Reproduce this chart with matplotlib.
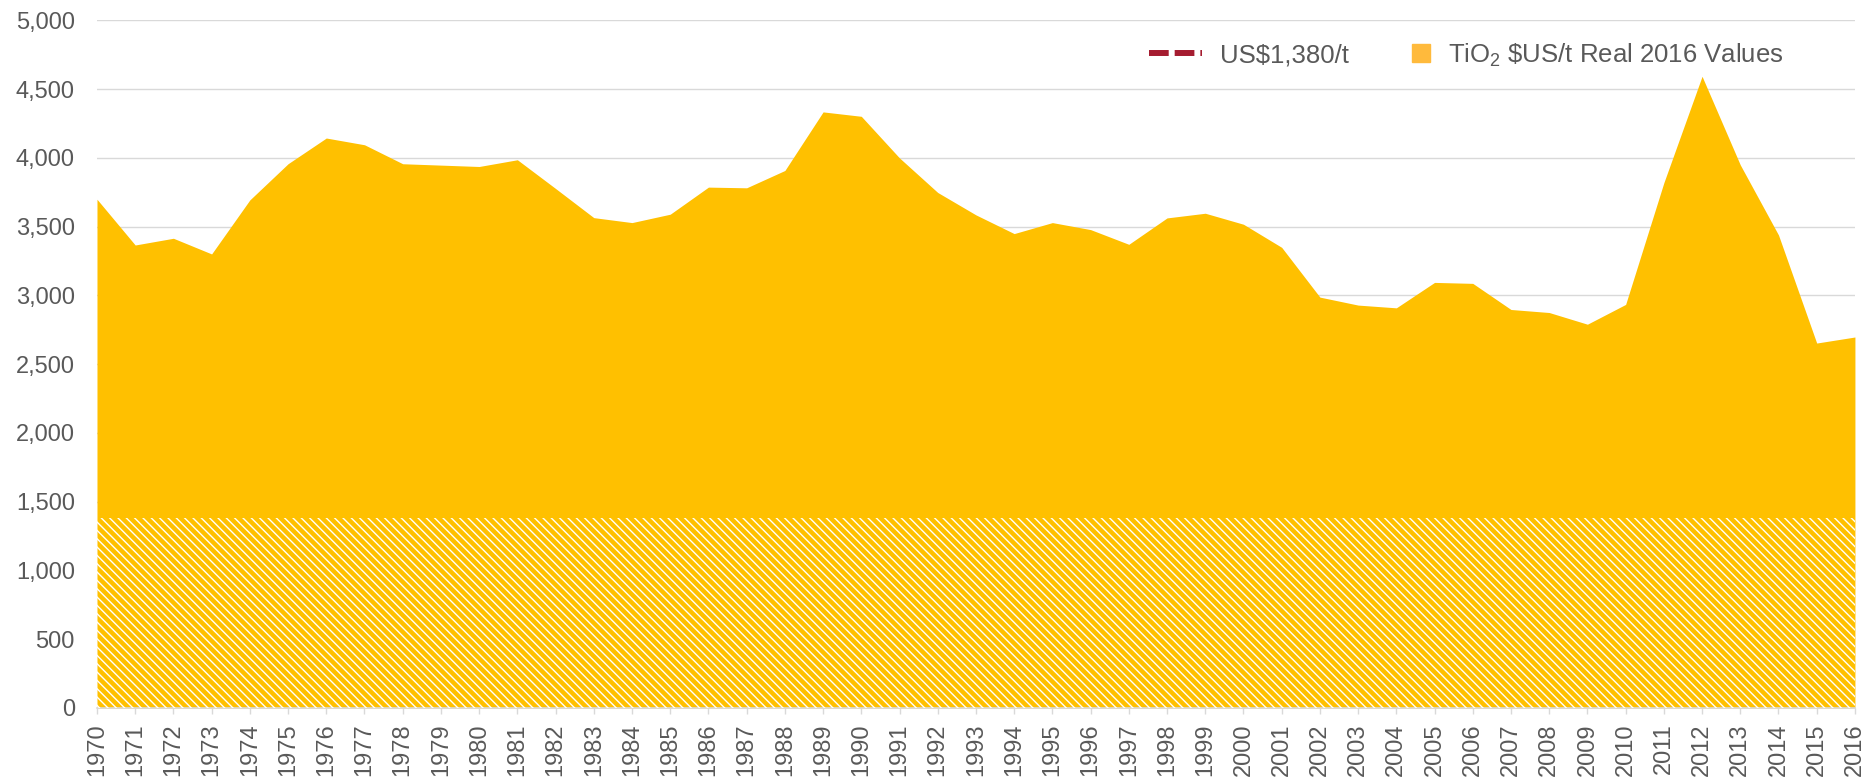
import matplotlib
matplotlib.use("Agg")
import matplotlib.pyplot as plt
import matplotlib.patches as mpatches
from matplotlib.lines import Line2D
from matplotlib.legend_handler import HandlerPatch
from matplotlib.ticker import FuncFormatter

# data
years = list(range(1970, 2017))
price = [3700, 3367, 3416, 3302, 3695, 3958, 4145, 4096, 3958, 3948,
         3938, 3987, 3778, 3566, 3530, 3591, 3788, 3783, 3909, 4335,
         4303, 4000, 3749, 3586, 3450, 3530, 3479, 3372, 3564, 3598,
         3518, 3350, 2988, 2930, 2910, 3095, 3088, 2898, 2876, 2791,
         2935, 3820, 4594, 3950, 3440, 2654, 2698]
threshold = 1380
line_label = "US$1,380/t"
area_label = "TiO$_\\mathregular{2}$ \\$US/t Real 2016 Values"

txt = "#595959"
gold = "#FFC000"
plt.rcParams["font.family"] = ["Liberation Sans", "DejaVu Sans"]
plt.rcParams["hatch.linewidth"] = 1.0

fig = plt.figure(figsize=(18.65, 7.78), dpi=100)
ax = fig.add_axes([0.052, 0.09, 0.9426, 0.8837])

# area, then the hatched band under the threshold
ax.fill_between(years, 0, price, color=gold, lw=0, zorder=2)
ax.fill_between(years, 0, threshold, facecolor="none", edgecolor="white",
                hatch="\\\\\\\\", lw=0, zorder=3)

ax.set_xlim(years[0], years[-1])
ax.set_ylim(0, 5000)
ax.set_yticks(range(0, 5001, 500))
ax.yaxis.set_major_formatter(FuncFormatter(lambda v, p: f"{int(v):,}"))
ax.set_xticks(years)
ax.set_xticklabels([str(y) for y in years], rotation=90)

ax.grid(axis="y", color="#D9D9D9", lw=1.0, zorder=0)
ax.set_axisbelow(True)
for s in ["top", "right", "left"]:
    ax.spines[s].set_visible(False)
ax.spines["bottom"].set_color("#D9D9D9")
ax.spines["bottom"].set_linewidth(1.2)
ax.tick_params(axis="y", length=0, pad=16, labelsize=17, labelcolor=txt)
ax.tick_params(axis="x", length=4.5, width=1.0, color="#D9D9D9", pad=6.5,
               labelsize=17, labelcolor=txt)


def square_patch(legend, orig_handle, xdescent, ydescent, width, height, fontsize):
    s = height
    return mpatches.Rectangle((-xdescent + width - s, -ydescent), s, s)


h_line = Line2D([], [], color="#A51C30", lw=4.3, dashes=(3.3, 1.0))
h_area = mpatches.Patch(color="#FFBA3C")
fig.legend([h_line, h_area], [line_label, area_label], ncol=2,
           loc="center left", bbox_to_anchor=(0.6161, 0.9295),
           frameon=False, fontsize=18.5, labelcolor=txt,
           handlelength=2.06, handleheight=0.7, handletextpad=0.7,
           columnspacing=1.1, borderpad=0, borderaxespad=0,
           handler_map={mpatches.Patch: HandlerPatch(patch_func=square_patch)})

fig.savefig("out.png", dpi=100)
